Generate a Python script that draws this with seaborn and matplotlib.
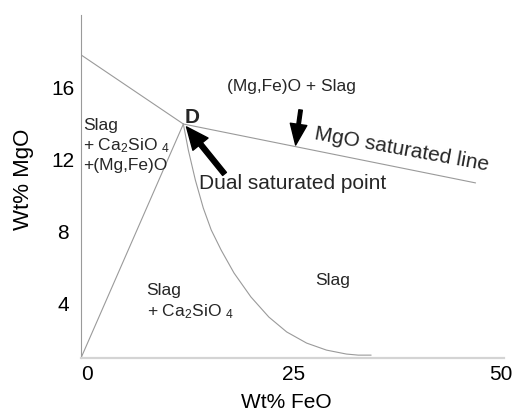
import numpy as np
import pandas as pd
import seaborn as sns
import matplotlib.pyplot as plt

# Phase boundaries (Wt% FeO, Wt% MgO)
upper_left_x = [-0.76, 11.62]
upper_left_y = [17.83, 13.98]
mgo_line_x = [11.62, 46.96]
mgo_line_y = [13.98, 10.70]
c2s_line_x = [-0.76, 11.62]
c2s_line_y = [0.95, 13.98]
curve_x = [11.62, 12.22, 13.07, 14.03, 14.99, 16.19, 17.75, 19.79, 21.96, 24.12,
           26.53, 28.93, 31.34, 32.77, 34.33]
curve_y = [13.98, 12.53, 10.86, 9.30, 8.08, 6.96, 5.68, 4.35, 3.23, 2.40,
           1.78, 1.39, 1.17, 1.11, 1.11]

x_ticks = [0, 25, 50]
y_ticks = [4, 8, 12, 16]

sns.set_theme(style="white")
plt.rcParams['font.family'] = ['Liberation Sans', 'DejaVu Sans']
plt.rcParams['mathtext.fontset'] = 'custom'
plt.rcParams['mathtext.rm'] = 'Liberation Sans'
plt.rcParams['mathtext.it'] = 'Liberation Sans:italic'
plt.rcParams['mathtext.bf'] = 'Liberation Sans:bold'

fig = plt.figure(figsize=(5.13, 4.17), dpi=100)
ax = fig.add_axes([81 / 513, 59 / 417, 423 / 513, 343 / 417])

line_color = '#9a9a9a'
for xs, ys in [(upper_left_x, upper_left_y), (mgo_line_x, mgo_line_y),
               (c2s_line_x, c2s_line_y), (curve_x, curve_y)]:
    df = pd.DataFrame({'x': xs, 'y': ys})
    sns.lineplot(data=df, x='x', y='y', sort=False, estimator=None,
                 color=line_color, linewidth=0.8, ax=ax)

ax.set_xlim(-0.76, 50.4)
ax.set_ylim(0.95, 20.05)
ax.set_xticks(x_ticks)
ax.set_yticks(y_ticks)
ax.tick_params(axis='both', length=0, labelsize=15, colors='black')
ax.tick_params(axis='x', pad=5)
ax.tick_params(axis='y', pad=13)
for lbl in ax.get_yticklabels():
    lbl.set_horizontalalignment('center')

for side in ['top', 'right']:
    ax.spines[side].set_visible(False)
ax.spines['left'].set_color(line_color)
ax.spines['left'].set_linewidth(0.8)
ax.spines['bottom'].set_color('#d4d4d4')
ax.spines['bottom'].set_linewidth(1.6)

ax.set_xlabel('Wt% FeO', fontsize=15, color='black')
ax.set_ylabel('Wt% MgO', fontsize=16, color='black')
ax.xaxis.set_label_coords(0.485, -0.131)
ax.xaxis.label.set_va('center')
ax.yaxis.set_label_coords(-0.137, 0.522)
ax.yaxis.label.set_va('center')

# Region labels
ax.text(16.9, 15.82, '(Mg,Fe)O + Slag', fontsize=12.5, va='baseline')
ax.text(-0.52, 14.3, 'Slag\n+ Ca$_2$SiO $_4$\n+(Mg,Fe)O', fontsize=12.5,
        va='top', linespacing=1.25)
ax.text(7.18, 5.1, 'Slag\n+ Ca$_2$SiO $_4$', fontsize=12.5, va='top', linespacing=1.25)
ax.text(27.6, 5.01, 'Slag', fontsize=12.5, va='baseline')
ax.text(11.8, 14.04, 'D', fontsize=15, fontweight='bold', va='baseline')

ax.text(27.37, 13.15, 'MgO saturated line', fontsize=15, rotation=-10.3,
        rotation_mode='anchor', ha='left', va='baseline')
ax.text(13.55, 10.36, 'Dual saturated point', fontsize=15, va='baseline')

# Arrows
ax.annotate('', xy=(12.0, 13.82), xytext=(16.6, 11.2),
            arrowprops=dict(facecolor='black', edgecolor='black', width=3.5,
                            headwidth=14, headlength=16, shrink=0))
ax.annotate('', xy=(25.2, 12.81), xytext=(25.8, 14.76),
            arrowprops=dict(facecolor='black', edgecolor='black', width=2.5,
                            headwidth=12, headlength=15, shrink=0))

fig.savefig('out.png', dpi=100)
